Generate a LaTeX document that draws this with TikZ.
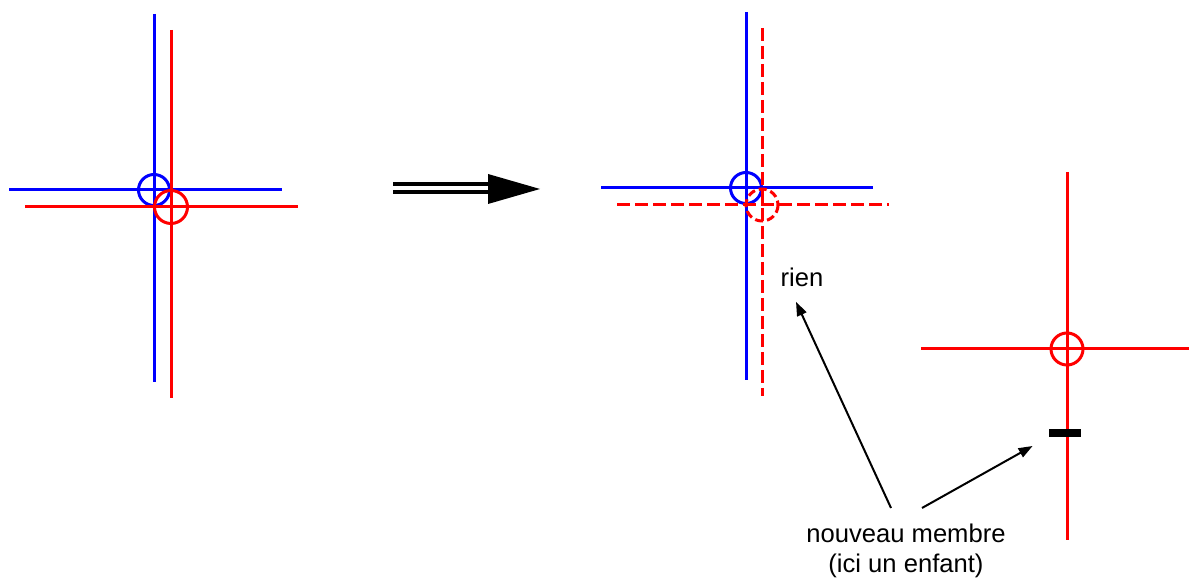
\documentclass[tikz,border=0pt]{standalone}
\usepackage{fontspec}
\setmainfont{Liberation Sans}
\usepackage{tikz}
\usetikzlibrary{arrows.meta, positioning, calc}
\definecolor{myblue}{RGB}{0,0,255}
\definecolor{myred}{RGB}{255,0,0}
\definecolor{mydark}{RGB}{0,0,0}
\tikzset{
  blueline/.style={line width=1.5pt, color=myblue},
  redline/.style={line width=1.5pt, color=myred},
  reddash/.style={line width=1.5pt, color=myred, dash pattern=on 6.5pt off 2.5pt},
  circdash/.style={line width=1.5pt, color=myred, dash pattern=on 4pt off 2pt},
  label/.style={font=\fontsize{12.8}{15}\selectfont, inner sep=0pt, align=center},
  arrow/.style={-{Triangle[length=7pt,width=5pt]}, line width=1pt, color=mydark},
  bigline/.style={line width=2pt, color=mydark}
}
\begin{document}
\begin{tikzpicture}[x=0.5pt, y=-0.5pt]
  \useasboundingbox (0,0) rectangle (1189,581);
  % Centres of the crosses
  \coordinate (pA) at (154,190);
  \coordinate (cA) at (171,207);
  \coordinate (pB) at (746,188);
  \coordinate (cB) at (762,205);
  \coordinate (cC) at (1067,349);

  % ── Before: parent (blue) and child (red) ────────────────────────────────
  \draw[blueline] ($(pA)+(0,-176)$) -- ($(pA)+(0,192)$);
  \draw[blueline] ($(pA)+(-145,0)$) -- ($(pA)+(128,0)$);
  \draw[blueline] (pA) circle[radius=15.5];
  \draw[redline]  ($(cA)+(0,-177)$) -- ($(cA)+(0,191)$);
  \draw[redline]  ($(cA)+(-146,0)$) -- ($(cA)+(127,0)$);
  \draw[redline]  (cA) circle[radius=16.5];

  % ── Transition arrow ─────────────────────────────────────────────────────
  \coordinate (tstart) at (393,188);
  \coordinate (ttip) at (540,189);
  \draw[bigline] ($(tstart)+(0,-4)$) -- (490,184);
  \draw[bigline] ($(tstart)+(0,4)$) -- (490,192);
  \fill[mydark] (488,174) -- (ttip) -- (488,204) -- cycle;

  % ── After: parent kept, child dashed ─────────────────────────────────────
  \draw[blueline] ($(pB)+(0,-176)$) -- ($(pB)+(0,192)$);
  \draw[blueline] ($(pB)+(-145,0)$) -- ($(pB)+(127,0)$);
  \draw[blueline] (pB) circle[radius=15.5];
  \draw[reddash]  ($(cB)+(0,-177)$) -- ($(cB)+(0,191)$);
  \draw[reddash]  ($(cB)+(-145,0)$) -- ($(cB)+(127,0)$);
  \draw[circdash] (cB) circle[radius=16];

  % ── New member on its own ────────────────────────────────────────────────
  \draw[redline] ($(cC)+(0,-177)$) -- ($(cC)+(0,191)$);
  \draw[redline] ($(cC)+(-146,0)$) -- ($(cC)+(122,0)$);
  \draw[redline] (cC) circle[radius=16];
  \node[fill=mydark, minimum width=16pt, minimum height=4pt, inner sep=0pt] (bar) at (1065,433) {};

  % ── Labels ───────────────────────────────────────────────────────────────
  \node[label] (rien) at (802,277) {rien};
  \node[label] (membre) at (906,551) {nouveau membre\\(ici un enfant)};

  % ── Pointers ─────────────────────────────────────────────────────────────
  \coordinate (tailA) at (891,508);
  \coordinate (tailB) at (922,508);
  \coordinate (tipA) at ($(rien.south)+(-6,15)$);
  \coordinate (tipB) at ($(bar.west)+(-16,13)$);
  \draw[arrow] (tailA) -- (tipA);
  \draw[arrow] (tailB) -- (tipB);
\end{tikzpicture}
\end{document}
